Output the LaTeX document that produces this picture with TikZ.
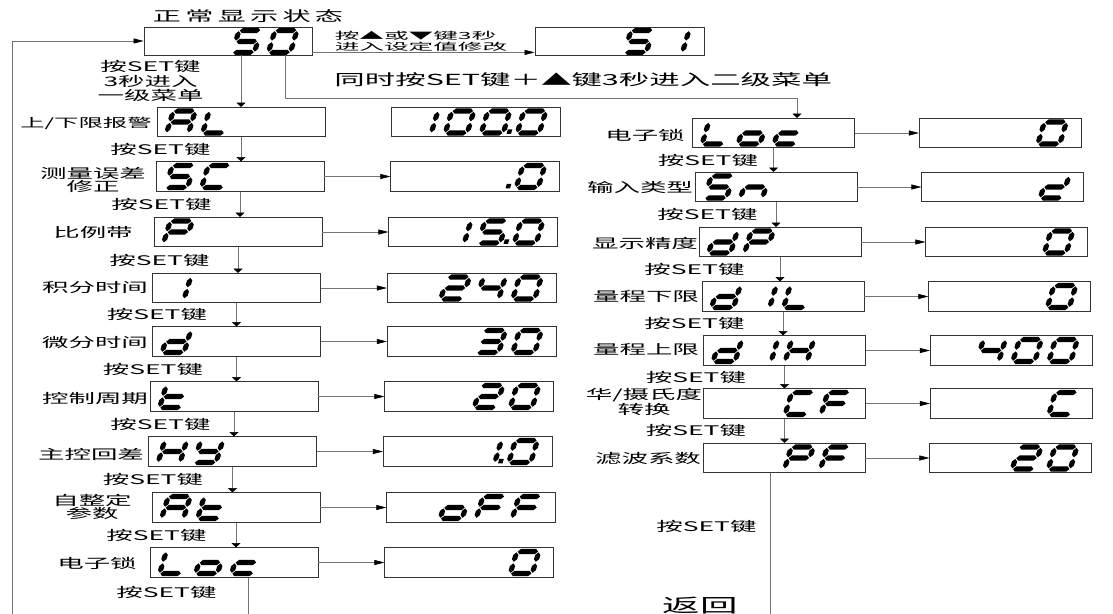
\documentclass[tikz,border=0pt]{standalone}
\usepackage{fontspec}
\newfontfamily\cjk[FakeStretch=2]{Noto Sans CJK SC}
\newfontfamily\cjksmall[FakeStretch=2.5]{Noto Sans CJK SC}
\usetikzlibrary{positioning,arrows.meta}

% seven-segment glyphs, one cell = 22 x 22 (px units)
\newcommand\segw{2.6}
\newcommand\hseg[3]{\fill (#1,#3) -- ({#1+\segw},{#3-\segw}) -- ({#2-\segw},{#3-\segw}) -- (#2,#3) -- ({#2-\segw},{#3+\segw}) -- ({#1+\segw},{#3+\segw}) -- cycle;}
\newcommand\vseg[3]{\fill (#1,#2) -- ({#1+\segw},{#2+\segw}) -- ({#1+\segw},{#3-\segw}) -- (#1,#3) -- ({#1-\segw},{#3-\segw}) -- ({#1-\segw},{#2+\segw}) -- cycle;}
\pgfkeys{/seg/.cd,
  a/.initial={\hseg{0.8}{21.2}{-22}},
  b/.initial={\vseg{22}{-21.2}{-11.8}},
  c/.initial={\vseg{22}{-10.2}{-0.8}},
  d/.initial={\hseg{0.8}{21.2}{0}},
  e/.initial={\vseg{0}{-10.2}{-0.8}},
  f/.initial={\vseg{0}{-21.2}{-11.8}},
  g/.initial={\hseg{0.8}{21.2}{-11}},
  p/.initial={\fill (25.5,0.8) -- (30,0.8) -- (30,-3.6) -- (25.5,-3.6) -- cycle;},
  n/.initial={}}
\pgfkeys{/segchar/.cd,
  0/.initial={a,b,c,d,e,f}, 0p/.initial={a,b,c,d,e,f,p},
  1/.initial={b,c}, 1p/.initial={b,c,p},
  2/.initial={a,b,d,e,g}, 3/.initial={a,b,c,d,g}, 4/.initial={b,c,f,g},
  5/.initial={a,c,d,f,g}, 5p/.initial={a,c,d,f,g,p},
  A/.initial={a,b,c,e,f,g}, C/.initial={a,d,e,f}, F/.initial={a,e,f,g},
  H/.initial={b,c,e,f,g}, K/.initial={b,d,e,g}, L/.initial={d,e,f},
  P/.initial={a,b,e,f,g}, S/.initial={a,c,d,f,g}, Y/.initial={b,c,d,f,g},
  c/.initial={d,e,g}, d/.initial={b,c,d,e,g}, n/.initial={c,e,g},
  o/.initial={c,d,e,g}, t/.initial={d,e,f,g},
  pt/.initial={p}, sp/.initial={n}}
\newcommand\segdisp[2]{%
  \begin{scope}[shift={#1}, xslant=0.3]
    \foreach \dch [count=\ci from 0] in {#2} {
      \pgfkeysgetvalue{/segchar/\dch}{\seglist}
      \begin{scope}[shift={({36*\ci},0)}]
        \foreach \sg in \seglist {\pgfkeysgetvalue{/seg/\sg}{\segcmd}\segcmd}
      \end{scope}
    }
  \end{scope}}

\begin{document}
\begin{tikzpicture}[x=0.03cm, y=-0.03cm,
  disp/.style={draw=black!80, line width=0.7pt, minimum width=#1, minimum height=0.88cm, inner sep=0pt},
  lbl/.style={font=\cjk\fontsize{11.3}{12.4}\selectfont, inner sep=1pt, align=center},
  lbltwo/.style={lbl, font=\cjk\fontsize{11.3}{10.5}\selectfont},
  setlbl/.style={lbl, left=#1},
  conn/.style={draw=black!55, line width=0.5pt},
  harr/.style={conn, -{Triangle[length=0.3cm, width=0.15cm, color=black]}},
  varr/.style={conn, -{Triangle[length=0.13cm, width=0.27cm, color=black]}}
]
  \path[use as bounding box, fill=white] (0,0) rectangle (1113,614);

  % normal display and set value
  \node[lbl, font=\cjk\fontsize{12}{14}\selectfont] (title) at (248,16)
    {\makebox[5.7cm]{正\hfill 常\hfill 显\hfill 示\hfill 状\hfill 态}};
  \node[disp=5.04cm, minimum height=0.84cm] (show) at (228,41) {};
  \node[disp=5.07cm, minimum height=0.84cm] (set) at (619.5,41) {};
  \segdisp{([shift={(-152,-3)}]show.south east)}{sp,sp,5,0}
  \segdisp{([shift={(-152,-3)}]set.south east)}{sp,sp,5,1}

  % first level menu
  \node[disp=5.04cm] (AL) at (241,122) {};
  \node[disp=5.04cm] (SC) at (240,176.5) {};
  \node[disp=5.04cm] (P) at (238,232) {};
  \node[disp=5.04cm] (I) at (236.5,288) {};
  \node[disp=5.04cm] (d) at (236.5,341.5) {};
  \node[disp=5.04cm] (t) at (234,396.5) {};
  \node[disp=5.04cm] (HY) at (232.5,451.5) {};
  \node[disp=5.04cm] (At) at (236,507.5) {};
  \node[disp=5.04cm] (Loc) at (234,562.5) {};

  \node[disp=5.07cm, right=1.98cm of AL] (vAL) {};
  \node[disp=5.07cm, right=1.98cm of SC] (vSC) {};
  \node[disp=5.07cm, right=1.98cm of P] (vP) {};
  \node[disp=5.07cm, right=1.98cm of I] (vI) {};
  \node[disp=5.07cm, right=1.98cm of d] (vd) {};
  \node[disp=5.07cm, right=1.98cm of t] (vt) {};
  \node[disp=5.07cm, right=1.98cm of HY] (vHY) {};
  \node[disp=5.07cm, right=1.98cm of At] (vAt) {};
  \node[disp=5.07cm, right=1.98cm of Loc] (vLoc) {};

  \node[lbl, font=\cjk\fontsize{10.4}{12}\selectfont] (nAL) at (86,123) {上/下限报警};
  \node[lbltwo] (nSC) at (93,180) {测量误差\\修正};
  \node[lbl] (nP) at (93,232) {比例带};
  \node[lbl] (nI) at (95,288) {积分时间};
  \node[lbl] (nd) at (95,342) {微分时间};
  \node[lbl] (nt) at (95,398) {控制周期};
  \node[lbl] (nHY) at (91,454) {主控回差};
  \node[lbltwo] (nAt) at (92,507) {自整定\\参数};
  \node[lbl] (nLoc) at (97,563) {电子锁};

  \segdisp{([shift={(10,-4)}]AL.south west)}{A,L}
  \segdisp{([shift={(10,-4)}]SC.south west)}{S,C}
  \segdisp{([shift={(10,-4)}]P.south west)}{P}
  \segdisp{([shift={(10,-4)}]I.south west)}{1}
  \segdisp{([shift={(10,-4)}]d.south west)}{d}
  \segdisp{([shift={(10,-4)}]t.south west)}{t}
  \segdisp{([shift={(10,-4)}]HY.south west)}{H,Y}
  \segdisp{([shift={(10,-4)}]At.south west)}{A,t}
  \segdisp{([shift={(10,-4)}]Loc.south west)}{L,o,c}

  \segdisp{([shift={(-152,-4)}]vAL.south east)}{1,0,0p,0}
  \segdisp{([shift={(-152,-4)}]vSC.south east)}{sp,sp,pt,0}
  \segdisp{([shift={(-152,-4)}]vP.south east)}{sp,1,5p,0}
  \segdisp{([shift={(-152,-4)}]vI.south east)}{sp,2,4,0}
  \segdisp{([shift={(-152,-4)}]vd.south east)}{sp,sp,3,0}
  \segdisp{([shift={(-152,-4)}]vt.south east)}{sp,sp,2,0}
  \segdisp{([shift={(-152,-4)}]vHY.south east)}{sp,sp,1p,0}
  \segdisp{([shift={(-152,-4)}]vAt.south east)}{sp,o,F,F}
  \segdisp{([shift={(-152,-4)}]vLoc.south east)}{sp,sp,sp,0}

  % second level menu
  \node[disp=4.86cm] (LocB) at (773.5,133) {};
  \node[disp=4.86cm] (Sn) at (776,187) {};
  \node[disp=4.86cm] (dP) at (780,242) {};
  \node[disp=4.86cm] (dIL) at (783,296.5) {};
  \node[disp=4.86cm] (dIH) at (784.5,350.5) {};
  \node[disp=4.86cm] (CF) at (784.5,403.5) {};
  \node[disp=4.86cm] (PF) at (784,458) {};

  \node[disp=4.86cm, right=1.92cm of LocB] (vLocB) {};
  \node[disp=4.86cm, right=1.92cm of Sn] (vSn) {};
  \node[disp=4.86cm, right=1.92cm of dP] (vdP) {};
  \node[disp=4.86cm, right=1.92cm of dIL] (vdIL) {};
  \node[disp=4.86cm, right=1.92cm of dIH] (vdIH) {};
  \node[disp=4.86cm, right=1.92cm of CF] (vCF) {};
  \node[disp=4.86cm, right=1.92cm of PF] (vPF) {};

  \node[lbl] (nLocB) at (645,135) {电子锁};
  \node[lbl] (nSn) at (640,187) {输入类型};
  \node[lbl] (ndP) at (645,243) {显示精度};
  \node[lbl] (ndIL) at (646,297) {量程下限};
  \node[lbl] (ndIH) at (646,350) {量程上限};
  \node[lbltwo] (nCF) at (644,402) {华/摄氏度\\转换};
  \node[lbl] (nPF) at (648,458) {滤波系数};

  \segdisp{([shift={(10,-4)}]LocB.south west)}{L,o,c}
  \segdisp{([shift={(10,-4)}]Sn.south west)}{S,n}
  \segdisp{([shift={(10,-4)}]dP.south west)}{d,P}
  \segdisp{([shift={(10,-4)}]dIL.south west)}{d,1,L}
  \segdisp{([shift={(10,-4)}]dIH.south west)}{d,1,H}
  \segdisp{([shift={(10,-4)}]CF.south west)}{sp,sp,C,F}
  \segdisp{([shift={(10,-4)}]PF.south west)}{sp,sp,P,F}

  \segdisp{([shift={(-152,-4)}]vLocB.south east)}{sp,sp,sp,0}
  \segdisp{([shift={(-152,-4)}]vSn.south east)}{sp,sp,sp,K}
  \segdisp{([shift={(-152,-4)}]vdP.south east)}{sp,sp,sp,0}
  \segdisp{([shift={(-152,-4)}]vdIL.south east)}{sp,sp,sp,0}
  \segdisp{([shift={(-152,-4)}]vdIH.south east)}{sp,4,0,0}
  \segdisp{([shift={(-152,-4)}]vCF.south east)}{sp,sp,sp,C}
  \segdisp{([shift={(-152,-4)}]vPF.south east)}{sp,sp,2,0}

  % connectors
  \coordinate (ret) at (12,614);
  \coordinate (retL) at (248,614);
  \coordinate (retR) at (770,614);
  \coordinate (lvlA) at (285,98);
  \coordinate (lvlB) at (797,98);

  \draw[harr] (ret) |- (show.west);
  \draw[harr] ([shift={(0,-3)}]show.south east) -- node[pos=0, above right, xshift=0.63cm, font=\cjksmall\fontsize{8.4}{8.7}\selectfont, align=left, inner sep=1pt] (hint) {按▲或▼键3秒\\进入设定值修改} ([shift={(0,-3)}]set.south west);
  \draw[varr] (show.south -| lvlA) -- (lvlA) -- (lvlB) -- (lvlB |- LocB.north);
  \node[lbl, font=\cjk\fontsize{13}{15}\selectfont, anchor=west] (lvltxt) at (333,80) {同时按SET键＋▲键3秒进入二级菜单};

  \draw[varr] (AL.north |- show.south) -- node[setlbl=1.08cm] (k0) {按SET键\\3秒进入\\一级菜单} (AL.north);
  \draw[varr] (AL.south) -- node[setlbl=0.87cm] {按SET键} (AL.south |- SC.north);
  \draw[varr] (SC.south) -- node[setlbl=0.81cm] {按SET键} (SC.south |- P.north);
  \draw[varr] (P.south) -- node[setlbl=0.81cm] {按SET键} (P.south |- I.north);
  \draw[varr] (I.south) -- node[setlbl=0.84cm] {按SET键} (I.south |- d.north);
  \draw[varr] (d.south) -- node[setlbl=0.96cm] {按SET键} (d.south |- t.north);
  \draw[varr] (t.south) -- node[setlbl=0.66cm] {按SET键} (t.south |- HY.north);
  \draw[varr] (HY.south) -- node[setlbl=0.84cm] {按SET键} (HY.south |- At.north);
  \draw[varr] (At.south) -- node[setlbl=0.84cm] {按SET键} (At.south |- Loc.north);
  \draw[conn] (Loc.south -| retL) -- node[setlbl=0.9cm, pos=0.4] {按SET键} (retL);

  \foreach \n in {SC,P,I,d,t,HY,At,Loc}
    \draw[harr] (\n) -- (v\n);

  \draw[varr] (LocB.south) -- node[setlbl=0.42cm] {按SET键} (LocB.south |- Sn.north);
  \draw[varr] (Sn.south) -- node[setlbl=0.51cm] {按SET键} (Sn.south |- dP.north);
  \draw[varr] (dP.south) -- node[setlbl=1.02cm] {按SET键} (dP.south |- dIL.north);
  \draw[varr] (dIL.south) -- node[setlbl=1.11cm] {按SET键} (dIL.south |- dIH.north);
  \draw[varr] (dIH.south) -- node[setlbl=1.11cm] {按SET键} (dIH.south |- CF.north);
  \draw[varr] (CF.south) -- node[setlbl=1.11cm] {按SET键} (CF.south |- PF.north);
  \draw[conn] (PF.south -| retR) -- node[setlbl=0.36cm, pos=0.38] {按SET键}
    node[setlbl=0.93cm, pos=0.94, font=\cjk\fontsize{16}{18}\selectfont] (back) {返回} (retR);

  \foreach \n in {LocB,Sn,dP,dIL,dIH,CF,PF}
    \draw[harr] (\n) -- (v\n);
\end{tikzpicture}
\end{document}
